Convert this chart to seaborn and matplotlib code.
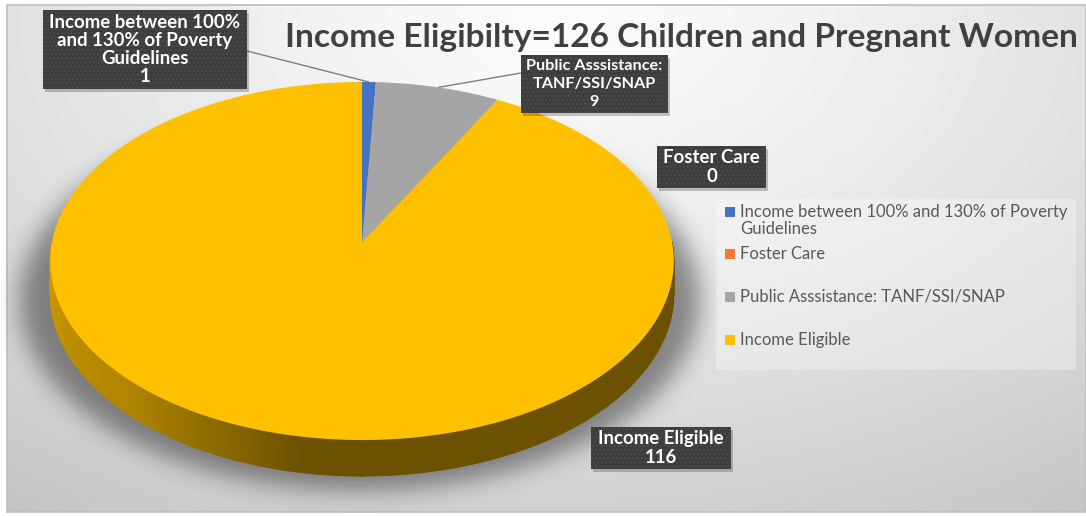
import numpy as np
import matplotlib
matplotlib.use("Agg")
import matplotlib.pyplot as plt
import seaborn as sns
from matplotlib.path import Path
from matplotlib.transforms import Transform
from matplotlib.patches import Rectangle
from matplotlib.collections import PolyCollection
from matplotlib.colors import to_rgb

# ---- data -------------------------------------------------------------
categories = [
    "Income between 100% and 130% of Poverty Guidelines",
    "Foster Care",
    "Public Asssistance: TANF/SSI/SNAP",
    "Income Eligible",
]
counts = [1, 0, 9, 116]
slice_colors = ["#4472c4", "#ed7d31", "#a5a5a5", "#ffc000"]
callout_lines = [
    ["Income between 100%", "and 130% of Poverty", "Guidelines"],
    ["Foster Care"],
    ["Public Asssistance:", "TANF/SSI/SNAP"],
    ["Income Eligible"],
]
legend_lines = [
    ["Income between 100% and 130% of Poverty", "Guidelines"],
    ["Foster Care"],
    ["Public Asssistance: TANF/SSI/SNAP"],
    ["Income Eligible"],
]
title = "Income Eligibilty=126 Children and Pregnant Women"

# ---- layout (pixel coordinates, y downwards) --------------------------
W, H = 1086, 516
area = (7, 5, W, 512)                       # chart area
callout_boxes = [(43, 10, 247, 89), (657, 146, 766, 188),
                 (521, 55, 668, 113), (591, 427, 731, 469)]
callout_anchor = [(247, 51), None, (521, 73), None]
legend_box = (716, 199, 1076, 370)
legend_y = [212, 254, 297, 340]

sns.set_theme(style="white")
plt.rcParams["font.family"] = ["Lato", "DejaVu Sans"]

fig = plt.figure(figsize=(W / 100, H / 100), dpi=100, facecolor="white")
ax = fig.add_axes([0, 0, 1, 1])
renderer = fig.canvas.get_renderer()


def text_width(text, size, weight="normal"):
    t = fig.text(0, 0, text, fontsize=size, fontweight=weight)
    w = t.get_window_extent(renderer).width
    t.remove()
    return w


def fit_size(text, target_px, weight="normal"):
    return 10 * target_px / text_width(text, 10, weight)


def blur(a, s):
    r = int(3 * s)
    k = np.exp(-0.5 * (np.arange(-r, r + 1) / s) ** 2)
    k /= k.sum()
    a = np.apply_along_axis(lambda m: np.convolve(m, k, mode="same"), 0, a)
    a = np.apply_along_axis(lambda m: np.convolve(m, k, mode="same"), 1, a)
    return a


# ---- background gradient ---------------------------------------------
x0, y0, x1, y1 = area
yy, xx = np.mgrid[y0:y1, x0:x1] + 0.5
d = np.hypot((xx - 560) / 1000, (yy - 20) / 620)
g = np.clip(252 - 58 * d ** 1.3, 190, 255) / 255
ax.imshow(np.dstack([g, g, g]), extent=(x0, x1, y1, y0), zorder=0,
          interpolation="bilinear")
ax.add_patch(Rectangle((x0, y0), x1 - x0, y1 - y0, fill=False,
                       edgecolor="#bdbdbd", linewidth=1.2, zorder=1))

# soft shadow beneath the disc
gy, gx = np.mgrid[0:H, 0:W] + 0.5
mask = (((gx - 360) / 340) ** 2 + ((gy - 300) / 190) ** 2 <= 1).astype(float)
sh = blur(mask, 12)
shadow = np.zeros((H, W, 4))
shadow[..., 3] = 0.42 * sh
ax.imshow(shadow, extent=(0, W, H, 0), zorder=1.5, interpolation="bilinear")


# ---- tilted disc projection ------------------------------------------
class DiscProjection(Transform):
    """Maps unit-disc coordinates (u right, v away) onto the page."""
    input_dims = output_dims = 2
    is_separable = False
    has_inverse = False

    def __init__(self, cx, cy, a, b, k, e, z=0.0):
        super().__init__()
        self.cx, self.cy, self.a, self.b, self.k, self.e, self.z = cx, cy, a, b, k, e, z

    def project(self, u, v, z):
        u, v, z = np.asarray(u, float), np.asarray(v, float), np.asarray(z, float)
        w = 1 + self.k * v
        return np.column_stack([self.cx + self.a * u / w,
                                self.cy - (self.b * v + self.e * z) / w])

    def transform_non_affine(self, values):
        values = np.asarray(values, float)
        return self.project(values[:, 0], values[:, 1], np.full(len(values), self.z))

    def transform_path_non_affine(self, path):
        t = np.linspace(0, 1, 32)
        pts = [seg(t) for seg, _ in path.iter_bezier()]
        if not pts:
            return Path(self.transform_non_affine(path.vertices))
        verts = np.concatenate(pts)
        verts = np.vstack([verts, verts[:1]])
        return Path(self.transform_non_affine(verts), closed=True)


proj = DiscProjection(cx=362, cy=242, a=310, b=177, k=0.1062, e=32.2)

total = sum(counts)
edges = np.concatenate([[0], np.cumsum(counts)]) / total * 360.0

# side wall (front half of the rim)
shade_theta = [90, 190, 205, 223, 256, 270]
shade_fac = [0.42, 0.42, 0.55, 0.69, 0.77, 0.79]
polys, cols = [], []
for i, c in enumerate(counts):
    lo, hi = max(edges[i], 90.0), min(edges[i + 1], 270.0)
    if hi <= lo:
        continue
    th = np.linspace(lo, hi, int((hi - lo) * 2) + 2)
    for t0, t1 in zip(th[:-1], th[1:]):
        ring = np.radians([t0, t1, t1, t0])
        polys.append(proj.project(np.sin(ring), np.cos(ring), [0, 0, -1, -1]))
        f = np.interp((t0 + t1) / 2, shade_theta, shade_fac)
        cols.append(np.array(to_rgb(slice_colors[i])) * f)
ax.add_collection(PolyCollection(polys, facecolors=cols, edgecolors=cols,
                                 linewidths=0.6, zorder=3))

# top face
wedges, _ = ax.pie(counts, colors=slice_colors, startangle=90,
                   counterclock=False, wedgeprops=dict(linewidth=0))
for wdg in wedges:
    wdg.set_transform(proj + ax.transData)
    wdg.set_zorder(4)
    wdg.set_clip_on(False)

# ---- callouts --------------------------------------------------------
lab_fs = fit_size("Income between 100%", 192, "bold")
for i, (lines, box) in enumerate(zip(callout_lines, callout_boxes)):
    bx0, by0, bx1, by1 = box
    anchor = callout_anchor[i]
    if anchor is not None:
        mid = np.radians((edges[i] + edges[i + 1]) / 2)
        px, py = proj.project([np.sin(mid)], [np.cos(mid)], [0])[0]
        ax.plot([anchor[0], px], [anchor[1], py], color="#7f7f7f", lw=1.0,
                zorder=5, solid_capstyle="butt")
    ax.add_patch(Rectangle((bx0 + 2, by0 + 3), bx1 - bx0, by1 - by0,
                           facecolor="black", alpha=0.22, lw=0, zorder=5.5))
    ax.add_patch(Rectangle((bx0, by0), bx1 - bx0, by1 - by0,
                           facecolor="#3d3d3d", edgecolor="#4c4c4c", lw=0,
                           hatch="....", zorder=6))
    txt = lines + [str(counts[i])]
    widest = max(text_width(s, lab_fs, "bold") for s in txt)
    fs = lab_fs * min(1.0, (bx1 - bx0 - 10) / widest)
    step = 18.3
    yc = (by0 + by1) / 2 - step * (len(txt) - 1) / 2
    for j, s in enumerate(txt):
        ax.text((bx0 + bx1) / 2, yc + j * step, s, ha="center", va="center",
                color="white", fontweight="bold", fontsize=fs, zorder=7)

# ---- legend ----------------------------------------------------------
lx0, ly0, lx1, ly1 = legend_box
ax.add_patch(Rectangle((lx0, ly0), lx1 - lx0, ly1 - ly0, facecolor="white",
                       alpha=0.3, lw=0, zorder=2))
leg_fs = fit_size(legend_lines[0][0], 328)
for i, lines in enumerate(legend_lines):
    y = legend_y[i]
    ax.add_patch(Rectangle((725, y - 5), 10, 10,
                           facecolor=wedges[i].get_facecolor(), lw=0, zorder=3))
    for j, s in enumerate(lines):
        ax.text(740, y + j * 16.5, s, ha="left", va="center", color="#595959",
                fontsize=leg_fs, zorder=3)

# ---- title -----------------------------------------------------------
ttl_fs = fit_size(title, 795, "bold")
ax.text(285, 37, title, ha="left", va="center", color="#404040",
        fontweight="bold", fontsize=ttl_fs, zorder=3)

ax.set_xlim(0, W)
ax.set_ylim(H, 0)
ax.set_aspect("auto")
ax.set_position([0, 0, 1, 1])
ax.axis("off")

fig.savefig("out.png", dpi=100, facecolor="white")
